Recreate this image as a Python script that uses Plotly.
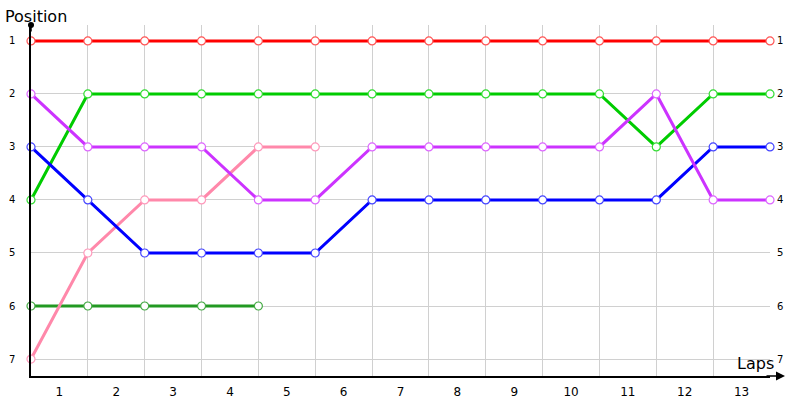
import plotly.graph_objects as go

# Lap chart: position of each driver at each lap boundary
laps = list(range(14))
lap_labels = [str(i) for i in range(1, 14)]
positions = [1, 2, 3, 4, 5, 6, 7]

red_pos = [1, 1, 1, 1, 1, 1, 1, 1, 1, 1, 1, 1, 1, 1]
green_pos = [4, 2, 2, 2, 2, 2, 2, 2, 2, 2, 2, 3, 2, 2]
darkgreen_pos = [6, 6, 6, 6, 6]
pink_pos = [7, 5, 4, 4, 3, 3]
blue_pos = [3, 4, 5, 5, 5, 5, 4, 4, 4, 4, 4, 4, 3, 3]
violet_pos = [2, 3, 3, 3, 4, 4, 3, 3, 3, 3, 3, 2, 4, 4]

series = [
    (red_pos, "#ff0000", "#ff5555"),
    (green_pos, "#00cc00", "#33dd33"),
    (darkgreen_pos, "#229922", "#44aa44"),
    (pink_pos, "#ff88aa", "#ff99bb"),
    (blue_pos, "#0000ff", "#4444ff"),
    (violet_pos, "#cc33ff", "#dd66ff"),
]

fig = go.Figure()
for ys, col, mcol in series:
    fig.add_trace(go.Scatter(
        x=laps[:len(ys)], y=ys, mode="lines+markers",
        line=dict(color=col, width=3),
        marker=dict(size=8, color="white", line=dict(color=mcol, width=1.2)),
        showlegend=False, cliponaxis=False,
    ))

# invisible trace to carry the right-hand position labels
fig.add_trace(go.Scatter(x=[0], y=[1], yaxis="y2", mode="markers",
                         marker=dict(opacity=0), showlegend=False, hoverinfo="skip"))

yrange = [7.32, 0.7]
fig.update_layout(
    width=800, height=400,
    margin=dict(l=31, r=30, t=25, b=24),
    plot_bgcolor="white", paper_bgcolor="white",
    font=dict(family="DejaVu Sans", color="black"),
    xaxis=dict(
        range=[0, 13], automargin=False,
        tickvals=[i + 0.5 for i in range(13)], ticktext=lap_labels,
        showgrid=False, zeroline=False,
        showline=True, linecolor="black", linewidth=1.5,
        ticks="outside", ticklen=4, tickcolor="rgba(0,0,0,0)",
        tickfont=dict(size=12),
        minor=dict(tickvals=laps, showgrid=True, gridcolor="#d0d0d0", gridwidth=1),
    ),
    yaxis=dict(
        range=yrange, tickvals=positions, automargin=False,
        showgrid=True, gridcolor="#d0d0d0", zeroline=False,
        showline=True, linecolor="black", linewidth=1.5,
        ticks="outside", ticklen=12, tickcolor="rgba(0,0,0,0)",
        tickfont=dict(size=10),
    ),
    yaxis2=dict(
        range=yrange, tickvals=positions, overlaying="y", side="right",
        automargin=False,
        showgrid=False, zeroline=False, showline=False,
        ticks="outside", ticklen=4, tickcolor="rgba(0,0,0,0)",
        tickfont=dict(size=10),
    ),
    annotations=[
        dict(text="Position", xref="paper", yref="paper", x=0, xshift=-28, y=1.0, yshift=-3,
             xanchor="left", yanchor="bottom", showarrow=False, font=dict(size=16)),
        dict(text="Laps", xref="paper", yref="paper", x=1.0, xshift=6, y=0.0, yshift=1,
             xanchor="right", yanchor="bottom", showarrow=False, font=dict(size=16)),
        # arrow at the end of the x axis
        dict(xref="paper", yref="paper", x=1.0, xshift=15, y=0, ax=-20, ay=0, text="",
             showarrow=True, arrowhead=2, arrowsize=1.2, arrowwidth=1.5, arrowcolor="black"),
        # small dot at the top of the y axis
        dict(xref="paper", yref="paper", x=0, y=1.0, ax=0, ay=8, text="",
             showarrow=True, arrowhead=6, arrowsize=1, arrowwidth=1.5, arrowcolor="black"),
    ],
)

# drop the browser's default body margin so the 800x400 figure fills the window
fig.write_html("out.html", config={"displayModeBar": False},
               post_script="document.body.style.margin = '0';")
